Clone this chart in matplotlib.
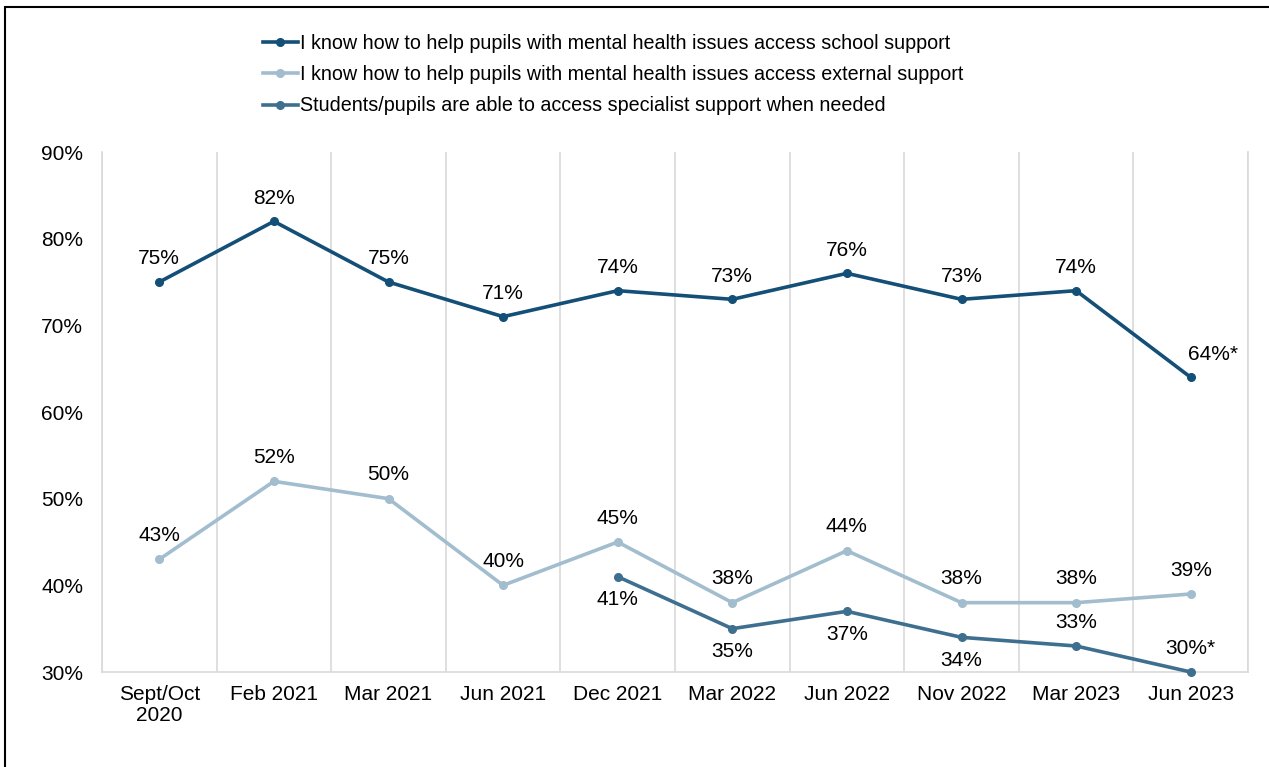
import matplotlib
matplotlib.use('Agg')
import matplotlib.pyplot as plt
from matplotlib.patches import Rectangle
import numpy as np

plt.rcParams['font.family'] = ['Liberation Sans', 'DejaVu Sans']

waves = ['Sept/Oct\n2020', 'Feb 2021', 'Mar 2021', 'Jun 2021', 'Dec 2021',
         'Mar 2022', 'Jun 2022', 'Nov 2022', 'Mar 2023', 'Jun 2023']
school_support = [75, 82, 75, 71, 74, 73, 76, 73, 74, 64]
external_support = [43, 52, 50, 40, 45, 38, 44, 38, 38, 39]
specialist_support = [np.nan, np.nan, np.nan, np.nan, 41, 35, 37, 34, 33, 30]
# significant change flagged with *
flagged = {('school', 9), ('specialist', 9)}

series_names = ['I know how to help pupils with mental health issues access school support',
                'I know how to help pupils with mental health issues access external support',
                'Students/pupils are able to access specialist support when needed']

col_dark = '#134F76'
col_light = '#A2BDCE'
col_mid = '#3F6F8F'
grid_col = '#D9D9D9'
fs = 15
fs_leg = 14.2

fig = plt.figure(figsize=(12.69, 7.67), dpi=100)
W, H = 1269, 767
ax = fig.add_axes([102 / W, (H - 672) / H, (1248 - 102) / W, (672 - 152) / H])


def pt_off(px):
    return px * 72 / 100


x = np.arange(len(waves))
lw, ms = 2.6, 5.5
ax.plot(x, school_support, color=col_dark, lw=lw, marker='o', ms=ms,
        label=series_names[0], clip_on=False, zorder=3)
ax.plot(x, external_support, color=col_light, lw=lw, marker='o', ms=ms,
        label=series_names[1], clip_on=False, zorder=3)
ax.plot(x, specialist_support, color=col_mid, lw=lw, marker='o', ms=ms,
        label=series_names[2], clip_on=False, zorder=3)

ax.set_xlim(-0.5, len(waves) - 0.5)
ax.set_ylim(30, 90)
ax.set_yticks(range(30, 91, 10))
ax.set_yticklabels([f'{v}%' for v in range(30, 91, 10)], fontsize=fs)
ax.set_xticks(x)
ax.set_xticklabels(waves, fontsize=fs, linespacing=1.12)
ax.set_xticks(np.arange(-0.5, len(waves), 1.0), minor=True)
ax.tick_params(axis='both', which='both', length=0)
ax.tick_params(axis='y', pad=pt_off(19))
ax.tick_params(axis='x', pad=pt_off(13))
ax.grid(axis='x', which='minor', color=grid_col, lw=1.2)
for side in ['left', 'right', 'bottom']:
    ax.spines[side].set_color(grid_col)
    ax.spines[side].set_linewidth(1.2)
ax.spines['top'].set_visible(False)

for i, v in enumerate(school_support):
    txt = f'{v}%' + ('*' if ('school', i) in flagged else '')
    dx = 22 if ('school', i) in flagged else 0
    ax.annotate(txt, (i, v), xytext=(pt_off(dx), pt_off(23)), textcoords='offset points',
                ha='center', va='center', fontsize=fs)

for i, v in enumerate(external_support):
    ax.annotate(f'{v}%', (i, v), xytext=(0, pt_off(24)), textcoords='offset points',
                ha='center', va='center', fontsize=fs)

# specialist labels sit below the line except the last two waves
for i, v in enumerate(specialist_support):
    if np.isnan(v):
        continue
    txt = f'{v:.0f}%' + ('*' if ('specialist', i) in flagged else '')
    dy = 24 if i >= 8 else -23
    ax.annotate(txt, (i, v), xytext=(0, pt_off(dy)), textcoords='offset points',
                ha='center', va='center', fontsize=fs)

fig.legend(loc='upper left', bbox_to_anchor=(263 / W, 1 - 34 / H), frameon=False,
           fontsize=fs_leg, handlelength=1.75, handletextpad=0.12, labelspacing=0.62,
           borderaxespad=0, borderpad=0)

# outer frame
fig.patches.append(Rectangle((5 / W, -0.1), 1.2, 1 - 7 / H + 0.1, transform=fig.transFigure,
                             fill=False, edgecolor='black', lw=1.5))

fig.savefig('out.png', dpi=100)
